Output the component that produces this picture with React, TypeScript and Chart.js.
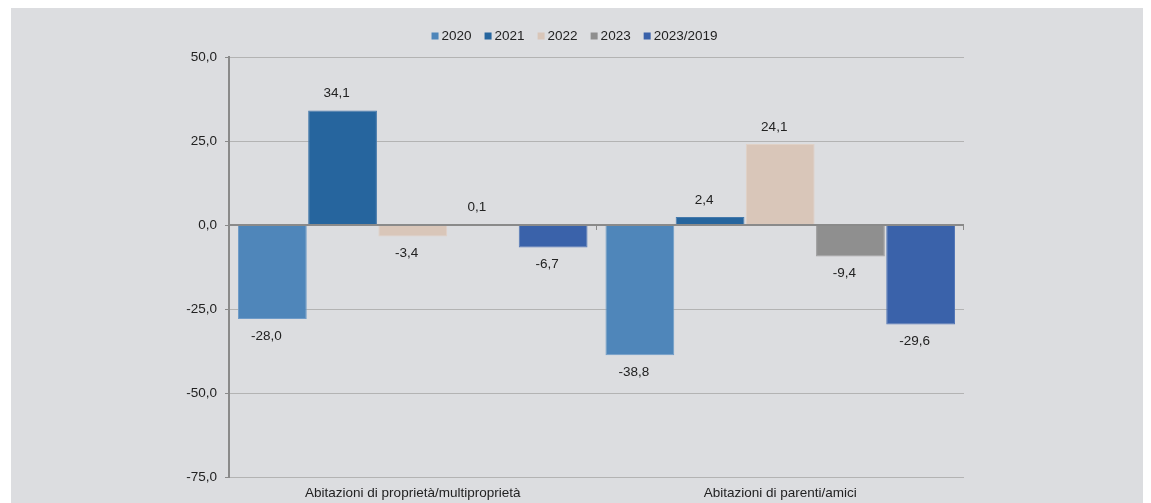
import React, { useEffect, useRef } from "react";
import { Chart, registerables } from "chart.js";

Chart.register(...registerables);

const categories = ["Abitazioni di proprietà/multiproprietà", "Abitazioni di parenti/amici"];
const seriesLabels = ["2020", "2021", "2022", "2023", "2023/2019"];
const values2020 = [-28.0, -38.8];
const values2021 = [34.1, 2.4];
const values2022 = [-3.4, 24.1];
const values2023 = [0.1, -9.4];
const values2023vs2019 = [-6.7, -29.6];
const seriesColors = ["#4f86ba", "#26659e", "#d9c6b9", "#8f8f8f", "#3a62aa"];
const seriesBorders = ["#6f9bc8", "#4579ab", "#e0d1c6", "#9e9e9e", "#5577b6"];
const yMin = -75;
const yMax = 50;
const yStep = 25;

const FONT = "Liberation Sans, Arial, sans-serif";
const FONT_SIZE = 13.5;
const TEXT = "#222222";

const fmt = (v: number) => v.toFixed(1).replace(".", ",");

const zeroAxisPlugin = {
  id: "zeroAxis",
  afterDatasetsDraw(chart: any) {
    const { ctx, chartArea, scales } = chart;
    const y0 = Math.round(scales.y.getPixelForValue(0));
    const xs = scales.x;
    ctx.save();
    ctx.strokeStyle = "#8a8a8a";
    ctx.lineWidth = 2;
    ctx.beginPath();
    ctx.moveTo(chartArea.left, y0);
    ctx.lineTo(chartArea.right, y0);
    const bounds = [chartArea.left];
    for (let i = 0; i < categories.length - 1; i++) {
      bounds.push((xs.getPixelForValue(i) + xs.getPixelForValue(i + 1)) / 2);
    }
    bounds.push(chartArea.right);
    ctx.stroke();
    ctx.lineWidth = 1;
    ctx.beginPath();
    bounds.forEach((bx) => {
      const px = Math.round(bx) - 0.5;
      ctx.moveTo(px, y0);
      ctx.lineTo(px, y0 + 5);
    });
    ctx.stroke();
    ctx.restore();
  },
};

const valueLabelPlugin = {
  id: "valueLabels",
  afterDatasetsDraw(chart: any) {
    const { ctx } = chart;
    ctx.save();
    ctx.font = `${FONT_SIZE}px ${FONT}`;
    ctx.fillStyle = TEXT;
    ctx.textAlign = "center";
    ctx.textBaseline = "middle";
    chart.data.datasets.forEach((ds: any, di: number) => {
      const meta = chart.getDatasetMeta(di);
      meta.data.forEach((el: any, i: number) => {
        const v = ds.data[i];
        const y = v >= 0 ? el.y - 17 : el.y + 17;
        ctx.fillText(fmt(v), el.x - 6, y);
      });
    });
    ctx.restore();
  },
};

const legendPlugin = {
  id: "customLegend",
  afterDraw(chart: any) {
    const { ctx } = chart;
    ctx.save();
    ctx.font = `${FONT_SIZE}px ${FONT}`;
    ctx.textBaseline = "middle";
    ctx.textAlign = "left";
    const box = 7;
    const gapBox = 3;
    const gapItem = 13;
    const items = chart.data.datasets.map((ds: any) => ({
      label: ds.label,
      color: ds.backgroundColor,
      w: ctx.measureText(ds.label).width,
    }));
    const total =
      items.reduce((s: number, it: any) => s + box + gapBox + it.w, 0) + gapItem * (items.length - 1);
    let x = chart.width / 2 - 4 - total / 2;
    const cy = 28;
    items.forEach((it: any) => {
      ctx.fillStyle = it.color;
      ctx.fillRect(x, cy - box / 2, box, box);
      x += box + gapBox;
      ctx.fillStyle = TEXT;
      ctx.fillText(it.label, x, cy + 0.5);
      x += it.w + gapItem;
    });
    ctx.restore();
  },
};

export default function App() {
  const ref = useRef<HTMLCanvasElement | null>(null);

  useEffect(() => {
    if (!ref.current) return;
    const data = [values2020, values2021, values2022, values2023, values2023vs2019];
    const chart = new Chart(ref.current, {
      type: "bar",
      data: {
        labels: categories,
        datasets: seriesLabels.map((label, i) => ({
          label,
          data: data[i],
          backgroundColor: seriesColors[i],
          borderColor: seriesBorders[i],
          borderWidth: 1,
          barPercentage: 0.98,
          categoryPercentage: 0.955,
        })),
      },
      options: {
        responsive: false,
        animation: false,
        devicePixelRatio: 1,
        layout: { padding: { top: 49, right: 182, left: 0, bottom: 0 } },
        plugins: {
          legend: { display: false },
          tooltip: { enabled: false },
        },
        scales: {
          x: {
            afterFit: (s: any) => {
              s.height = 26;
            },
            grid: { display: false, drawTicks: false },
            border: { display: false },
            ticks: {
              padding: 8,
              color: TEXT,
              font: { family: FONT, size: FONT_SIZE },
              maxRotation: 0,
            },
          },
          y: {
            min: yMin,
            max: yMax,
            afterFit: (s: any) => {
              s.width = 218;
            },
            ticks: {
              stepSize: yStep,
              padding: 8,
              color: TEXT,
              font: { family: FONT, size: FONT_SIZE },
              callback: (v: any) => fmt(Number(v)),
            },
            grid: {
              color: "#b3b3b3",
              lineWidth: 1,
              tickColor: "#8a8a8a",
              tickLength: 4,
            },
            border: { color: "#8a8a8a", width: 2 },
          },
        },
      },
      plugins: [zeroAxisPlugin, valueLabelPlugin, legendPlugin],
    });
    return () => chart.destroy();
  }, []);

  return (
    <div
      style={{
        marginLeft: 3,
        width: 1135,
        height: 495,
        background: "#dcdde0",
        position: "relative",
      }}
    >
      <canvas ref={ref} width={1135} height={495} style={{ display: "block" }} />
    </div>
  );
}
